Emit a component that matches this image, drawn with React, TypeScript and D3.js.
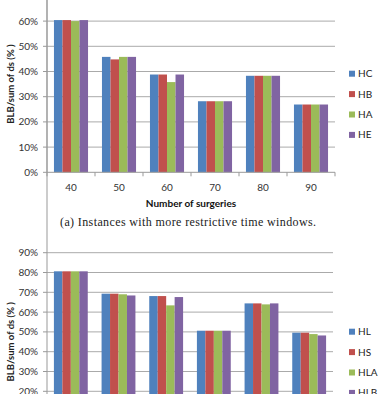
import * as d3 from 'd3';
import React from 'react';

// surgeries count (x categories)
const categories = ['40', '50', '60', '70', '80', '90'];

// (a) more restrictive time windows
const seriesA = ['HC', 'HB', 'HA', 'HE'];
const hcValues = [60.4, 45.8, 38.8, 28.2, 38.3, 26.9];
const hbValues = [60.4, 44.8, 38.8, 28.2, 38.3, 26.9];
const haValues = [60.0, 45.8, 35.8, 28.2, 38.3, 26.9];
const heValues = [60.4, 45.8, 38.8, 28.2, 38.3, 26.9];

// (b) second set of instances
const seriesB = ['HL', 'HS', 'HLA', 'HLB'];
const hlValues = [80.6, 69.3, 68.1, 50.6, 64.4, 49.6];
const hsValues = [80.6, 69.3, 68.1, 50.6, 64.4, 49.6];
const hlaValues = [80.6, 69.0, 63.4, 50.6, 63.9, 48.9];
const hlbValues = [80.6, 68.4, 67.6, 50.6, 64.4, 48.2];

const ticksA = [0, 10, 20, 30, 40, 50, 60, 70];
const ticksB = [0, 10, 20, 30, 40, 50, 60, 70, 80, 90];

const colors = ['#4f81bd', '#c0504d', '#9bbb59', '#8064a2'];

const font = 'Lato, "Open Sans", sans-serif';

function Chart({ names, values, ticks, y0, y1, x0, x1, legendY }) {
  const x = d3.scaleBand().domain(categories).range([x0, x1]).paddingInner(0.29).paddingOuter(0.145);
  const inner = d3.scaleBand().domain(names).range([0, x.bandwidth()]);
  const y = d3.scaleLinear().domain([0, d3.max(ticks)]).range([y0, y1]);
  const step = x.step();
  // only labels that land on the page (the figure is cropped)
  const shown = ticks.filter(t => y(t) > 2 && y(t) < 398);

  return (
    <g>
      {/* gridlines */}
      {ticks.filter(t => t > 0).map(t => (
        <line key={'g' + t} x1={x0} x2={x1} y1={y(t)} y2={y(t)} stroke="#aaa" strokeWidth={1} />
      ))}
      {/* y ticks + labels */}
      {ticks.map(t => (
        <line key={'t' + t} x1={x0 - 4} x2={x0} y1={y(t)} y2={y(t)} stroke="#999" />
      ))}
      {shown.map(t => (
        <text key={'tl' + t} x={38} y={y(t)} dy="0.35em" textAnchor="end" fontSize={10} fill="#333" fontFamily={font}>{t}%</text>
      ))}
      {/* bars */}
      {categories.map((c, i) => (
        <g key={c} transform={`translate(${x(c)},0)`}>
          {names.map((n, j) => (
            <rect key={n} x={inner(n)} y={y(values[j][i])} width={inner.bandwidth()}
              height={y(0) - y(values[j][i])} fill={colors[j]} />
          ))}
        </g>
      ))}
      {/* axes */}
      <line x1={x0} x2={x0} y1={Math.min(y1, 0) - 10} y2={y0} stroke="#999" />
      <line x1={x0} x2={x1} y1={y0} y2={y0} stroke="#999" />
      {d3.range(categories.length + 1).map(k => (
        <line key={'xt' + k} x1={x0 + k * step} x2={x0 + k * step} y1={y0} y2={y0 + 4} stroke="#999" />
      ))}
      {categories.map(c => (
        <text key={'xl' + c} x={x(c) + x.bandwidth() / 2} y={y0 + 15} dy="0.35em" textAnchor="middle"
          fontSize={10} fill="#333" fontFamily={font}>{c}</text>
      ))}
      {/* y title */}
      <text transform={`translate(11,${(y0 + y(d3.max(ticks))) / 2}) rotate(-90)`} textAnchor="middle" dy="0.35em"
        fontSize={9.5} fontWeight="bold" fill="#222" fontFamily={font}>BLB/sum of ds (% )</text>
      {/* legend */}
      {names.map((n, j) => (
        <g key={'l' + n} transform={`translate(349,${legendY + j * 20.4})`}>
          <rect x={0} y={-3} width={6} height={6} fill={colors[j]} />
          <text x={9} y={0} dy="0.35em" fontSize={10} fill="#222" fontFamily={font}>{n}</text>
        </g>
      ))}
    </g>
  );
}

export default function App() {
  return (
    <svg width={378} height={394} style={{ position: 'absolute', left: 0, top: 0, background: '#fff' }}>
      <rect width={378} height={394} fill="#fff" />
      <Chart names={seriesA} values={[hcValues, hbValues, haValues, heValues]} ticks={ticksA}
        y0={172.3} y1={172.3 - 7 * 25.2} x0={47} x1={335} legendY={73.7} />
      <text x={191} y={203} dy="0.35em" textAnchor="middle" fontSize={10} fontWeight="bold" fill="#111"
        fontFamily={font}>Number of surgeries</text>
      <text x={188} y={222} dy="0.35em" textAnchor="middle" fontSize={12} fill="#222" textLength={256}
        lengthAdjust="spacing" fontFamily='"Liberation Serif", "DejaVu Serif", serif'>(a) Instances with more restrictive time windows.</text>
      <Chart names={seriesB} values={[hlValues, hsValues, hlaValues, hlbValues]} ticks={ticksB}
        y0={430.9} y1={430.9 - 9 * 19.8} x0={47} x1={333} legendY={331.7} />
    </svg>
  );
}
